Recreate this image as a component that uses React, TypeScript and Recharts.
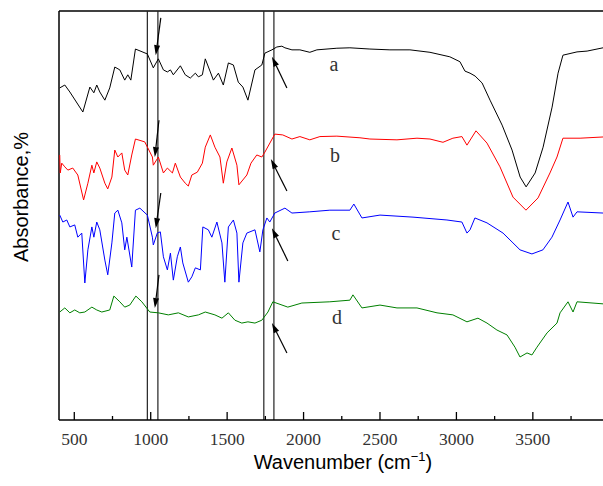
import React from "react";
import { LineChart, Line, XAxis, YAxis, ReferenceLine, ReferenceDot } from "recharts";

// wavenumber (cm-1) / absorbance (offset, arbitrary units) per sample
const wnA = [405, 438, 471, 556, 602, 628, 647, 667, 700, 732, 765, 798, 830, 850, 870, 900, 978, 1017, 1050, 1083, 1109, 1129, 1148, 1194, 1226, 1259, 1292, 1312, 1338, 1357, 1390, 1410, 1443, 1475, 1508, 1541, 1573, 1603, 1636, 1682, 1727, 1747, 1793, 1825, 1858, 1878, 1924, 1976, 2041, 2087, 2218, 2303, 2434, 2565, 2696, 2827, 2957, 3023, 3056, 3089, 3122, 3168, 3220, 3299, 3364, 3417, 3456, 3515, 3567, 3626, 3665, 3697, 3789, 3855, 3959];
const absA = [81.2, 81.9, 80.2, 75.3, 81.4, 80.0, 81.9, 80.2, 78.2, 81.2, 86.3, 85.6, 83.1, 84.4, 83.1, 90.7, 89.5, 86.1, 88.3, 85.6, 85.1, 85.6, 84.4, 86.6, 84.4, 83.6, 84.8, 83.9, 84.4, 88.3, 85.1, 83.1, 84.8, 81.9, 87.3, 86.8, 82.6, 81.4, 78.2, 85.6, 86.8, 89.7, 90.5, 91.2, 91.4, 91.0, 90.5, 90.5, 89.9, 90.5, 90.9, 91.0, 90.7, 90.5, 90.5, 89.9, 88.8, 87.6, 85.3, 84.8, 84.1, 82.4, 78.2, 72.1, 66.0, 59.4, 57.0, 60.4, 66.7, 76.5, 84.8, 89.2, 90.0, 90.2, 91.0];

const wnB = [405, 408, 418, 438, 458, 490, 523, 561, 589, 615, 628, 647, 667, 700, 719, 746, 765, 785, 811, 830, 850, 876, 900, 961, 1011, 1017, 1050, 1083, 1109, 1142, 1161, 1194, 1226, 1246, 1269, 1305, 1338, 1357, 1390, 1420, 1453, 1475, 1498, 1531, 1564, 1577, 1629, 1656, 1694, 1727, 1747, 1812, 1864, 1924, 1976, 2041, 2107, 2218, 2369, 2434, 2611, 2742, 2827, 2912, 2977, 3036, 3069, 3128, 3200, 3285, 3370, 3455, 3534, 3612, 3658, 3697, 3809, 3959];
const absB = [64.8, 60.4, 62.8, 61.9, 61.1, 61.6, 59.9, 53.8, 57.9, 62.3, 60.4, 63.1, 61.6, 57.9, 56.5, 59.4, 66.0, 64.3, 65.3, 61.1, 59.9, 64.8, 68.7, 68.0, 64.3, 62.3, 64.3, 60.4, 61.6, 60.4, 62.8, 59.4, 57.9, 57.2, 59.9, 60.6, 62.8, 66.7, 69.7, 66.7, 64.3, 57.9, 63.1, 66.5, 62.3, 57.5, 59.9, 62.8, 64.8, 64.3, 65.5, 69.9, 69.7, 68.7, 69.3, 68.5, 69.3, 69.4, 69.0, 68.7, 68.5, 68.9, 68.7, 67.9, 68.9, 69.3, 67.2, 70.7, 67.7, 61.9, 54.5, 51.3, 54.3, 60.4, 64.3, 68.9, 68.9, 69.2];

const wnC = [405, 425, 451, 471, 503, 523, 549, 569, 589, 615, 628, 647, 667, 700, 719, 746, 765, 785, 811, 830, 844, 876, 900, 929, 978, 1011, 1017, 1043, 1063, 1083, 1109, 1129, 1148, 1174, 1194, 1210, 1246, 1269, 1292, 1325, 1341, 1377, 1400, 1433, 1466, 1485, 1508, 1541, 1564, 1577, 1603, 1629, 1682, 1714, 1734, 1760, 1779, 1812, 1878, 1924, 2041, 2172, 2303, 2329, 2382, 2500, 2716, 2938, 3036, 3069, 3089, 3121, 3200, 3305, 3370, 3416, 3494, 3566, 3625, 3678, 3730, 3763, 3789, 3959];
const absC = [50.1, 48.4, 48.9, 47.2, 47.7, 44.7, 45.7, 33.5, 41.6, 47.2, 44.7, 48.4, 46.5, 39.1, 35.5, 43.3, 50.6, 51.3, 48.2, 41.6, 44.7, 37.4, 51.3, 51.8, 50.1, 44.7, 42.8, 45.7, 46.0, 39.9, 36.7, 40.8, 34.2, 39.9, 42.3, 38.4, 33.7, 35.0, 37.2, 36.7, 47.2, 46.5, 44.7, 48.4, 43.3, 33.7, 47.2, 48.9, 45.7, 33.7, 43.3, 45.7, 46.5, 41.1, 46.5, 49.4, 48.4, 50.6, 51.8, 50.6, 50.9, 51.3, 51.3, 52.8, 49.4, 50.1, 49.6, 48.9, 48.4, 45.7, 46.5, 49.4, 48.2, 45.7, 43.3, 41.6, 40.6, 41.6, 44.7, 48.9, 53.3, 49.6, 50.9, 50.6];

const wnD = [405, 438, 471, 503, 536, 569, 615, 647, 680, 732, 759, 798, 830, 863, 903, 942, 994, 1050, 1115, 1181, 1246, 1312, 1357, 1420, 1466, 1508, 1551, 1596, 1636, 1682, 1727, 1767, 1799, 1897, 1989, 2172, 2303, 2323, 2382, 2500, 2611, 2742, 2873, 2977, 3069, 3141, 3200, 3265, 3331, 3383, 3416, 3462, 3494, 3527, 3593, 3658, 3678, 3730, 3763, 3789, 3959];
const absD = [26.4, 27.4, 26.2, 26.9, 26.2, 26.4, 27.6, 26.9, 26.4, 26.9, 30.3, 28.9, 27.6, 28.1, 30.3, 28.9, 26.4, 26.2, 25.7, 26.2, 25.2, 25.7, 26.4, 25.7, 24.9, 26.2, 24.4, 23.7, 24.0, 23.7, 24.4, 26.4, 28.9, 27.6, 28.6, 28.9, 29.3, 30.6, 27.4, 28.1, 27.4, 27.4, 26.2, 25.7, 24.0, 24.9, 23.7, 22.0, 20.8, 17.8, 15.4, 16.4, 15.9, 17.8, 21.3, 23.7, 26.2, 28.9, 26.4, 28.9, 28.4];

const sampleNames = ["a", "b", "c", "d"];
const sampleColors = ["#000000", "#ff0000", "#0000ff", "#008000"];
const nameWn = [2199, 2205, 2212, 2218];
const nameAbs = [87.0, 64.8, 45.6, 25.2];

const bandLines = [978, 1047, 1740, 1806];

const arrowFromWn = [1066, 1054, 1066, 1054, 1891, 1891, 1897, 1891];
const arrowFromAbs = [98.3, 73.3, 55.5, 35.5, 81.2, 56.0, 38.9, 16.4];
const arrowToWn = [1033, 1027, 1033, 1027, 1793, 1786, 1793, 1793];
const arrowToAbs = [89.2, 64.3, 46.9, 27.4, 88.8, 63.8, 46.9, 23.7];

const xTicks = [500, 750, 1000, 1250, 1500, 1750, 2000, 2250, 2500, 2750, 3000, 3250, 3500, 3750];

const toPoints = (wn: number[], abs: number[]) => wn.map((w, i) => ({ wn: w, abs: abs[i] }));
const series = [toPoints(wnA, absA), toPoints(wnB, absB), toPoints(wnC, absC), toPoints(wnD, absD)];

const AxisTick = (props: any) => {
  const { x, y, payload } = props;
  const major = payload.value % 500 === 0;
  return (
    <g>
      <line x1={x} x2={x} y1={y} y2={y - (major ? 8 : 4)} stroke="#000" strokeWidth={1.3} />
      {major && (
        <text x={x} y={y + 25} textAnchor="middle" fontFamily="'Liberation Serif', serif" fontSize={17.5} fill="#333">
          {payload.value}
        </text>
      )}
    </g>
  );
};

const Arrow = (props: any) => {
  const { x1, y1, x2, y2 } = props;
  const ang = Math.atan2(y2 - y1, x2 - x1);
  const len = 10;
  const half = 3;
  const bx = x2 - len * Math.cos(ang);
  const by = y2 - len * Math.sin(ang);
  const px = -Math.sin(ang) * half;
  const py = Math.cos(ang) * half;
  return (
    <g>
      <line x1={x1} y1={y1} x2={bx} y2={by} stroke="#000" strokeWidth={1.2} />
      <polygon points={`${x2},${y2} ${bx + px},${by + py} ${bx - px},${by - py}`} fill="#000" />
    </g>
  );
};

// both axis titles; the y axis itself is not drawn, so its title rides along here
const AxisTitles = () => (
  <g fontFamily="'Liberation Sans', Arial, sans-serif" fontSize={20} fill="#000">
    <text x={343} y={469} textAnchor="middle">
      <tspan>Wavenumber (cm</tspan>
      <tspan dy={-8} fontSize={13}>−1</tspan>
      <tspan dy={8}>)</tspan>
    </text>
    <text x={28} y={197} transform="rotate(-90 28 197)" textAnchor="middle">
      Absorbance,%
    </text>
  </g>
);

export default function App() {
  return (
    <div style={{ position: "absolute", left: 0, top: 0, width: 603, height: 486, background: "#fff" }}>
      <LineChart width={603} height={486} margin={{ top: 11, right: 0, bottom: 36, left: 59 }}>
        <XAxis
          dataKey="wn"
          type="number"
          domain={[400, 3959]}
          allowDataOverflow
          ticks={xTicks}
          interval={0}
          height={30}
          tickSize={0}
          tickMargin={0}
          tickLine={false}
          tick={(p: any) => <AxisTick {...p} />}
          axisLine={{ stroke: "#000", strokeWidth: 1.5 }}
          label={<AxisTitles />}
        />
        <YAxis type="number" domain={[0, 100]} hide />
        <ReferenceLine y={100} stroke="#000" strokeWidth={1.5} />
        <ReferenceLine x={400} stroke="#000" strokeWidth={1.5} />
        {bandLines.map((b) => (
          <ReferenceLine key={b} x={b} stroke="#222" strokeWidth={1.2} />
        ))}
        {series.map((data, i) => (
          <Line
            key={sampleNames[i]}
            data={data}
            dataKey="abs"
            type="linear"
            stroke={sampleColors[i]}
            strokeWidth={1}
            dot={false}
            isAnimationActive={false}
          />
        ))}
        {arrowFromWn.map((w, i) => (
          <ReferenceLine
            key={`arrow-${i}`}
            segment={[
              { x: w, y: arrowFromAbs[i] },
              { x: arrowToWn[i], y: arrowToAbs[i] },
            ]}
            shape={(p: any) => <Arrow {...p} />}
          />
        ))}
        {sampleNames.map((n, i) => (
          <ReferenceDot
            key={`name-${n}`}
            x={nameWn[i]}
            y={nameAbs[i]}
            r={0}
            shape={(p: any) => (
              <text x={p.cx} y={p.cy} dy="0.35em" textAnchor="middle" fontFamily="'Liberation Serif', serif" fontSize={20} fill="#333">
                {n}
              </text>
            )}
          />
        ))}
      </LineChart>
    </div>
  );
}
